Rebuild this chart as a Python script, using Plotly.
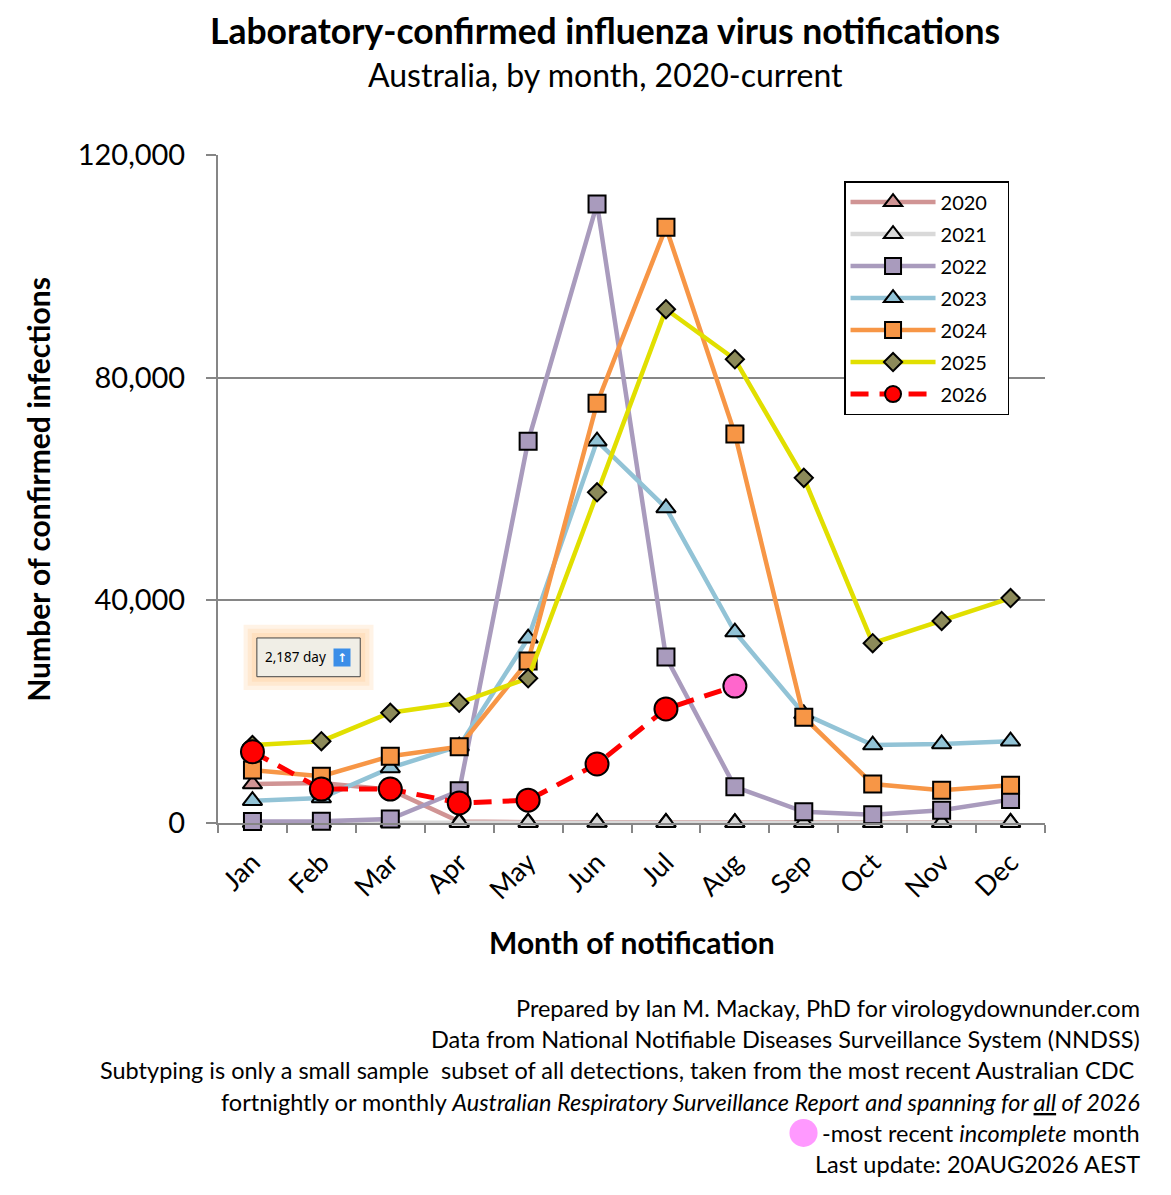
import plotly.graph_objects as go

months = ['Jan', 'Feb', 'Mar', 'Apr', 'May', 'Jun', 'Jul', 'Aug', 'Sep', 'Oct', 'Nov', 'Dec']

y2020 = [7000, 7200, 6000, 250, 150, 120, 120, 80, 60, 60, 70, 100]
y2021 = [50, 50, 100, 60, 60, 70, 60, 40, 30, 30, 40, 60]
y2022 = [250, 300, 700, 5800, 68600, 111200, 29800, 6500, 2000, 1500, 2300, 4200]
y2023 = [4000, 4500, 9900, 13800, 33200, 68600, 56600, 34300, 19600, 14000, 14200, 14700]
y2024 = [9500, 8400, 12000, 13700, 29100, 75400, 107000, 69900, 19000, 7000, 5900, 6800]
y2025 = [14000, 14700, 19800, 21600, 26000, 59400, 92300, 83300, 62000, 32300, 36300, 40400]
y2026 = [12800, 6100, 6100, 3600, 4100, 10600, 20500, 24600]

font_main = 'Lato, Open Sans, sans-serif'

fig = go.Figure()

def add_year(name, y, line_col, fill_col, symbol, size, dash='solid'):
    fig.add_trace(go.Scatter(
        x=months[:len(y)], y=y, name=name + '\u00a0\u00a0\u00a0', legendgroup=name,
        mode='lines+markers',
        line=dict(color=line_col, width=4.5, dash=dash),
        marker=dict(symbol=symbol, size=size, color=fill_col,
                    line=dict(color='black', width=2)),
        cliponaxis=False
    ))

add_year('2020', y2020, '#D09494', '#D09494', 'triangle-up', 17)
add_year('2021', y2021, '#D9D9D9', '#D9D9D9', 'triangle-up', 17)
add_year('2022', y2022, '#A99BBD', '#A99BBD', 'square', 17)
add_year('2023', y2023, '#92C3D6', '#92C3D6', 'triangle-up', 17)
add_year('2024', y2024, '#F79646', '#F79646', 'square', 17)
add_year('2025', y2025, '#E1DF00', '#8C8A5A', 'diamond', 14)

# 2026: last month is incomplete, pink marker
cols_2026 = ['#FF0000'] * (len(y2026) - 1) + ['#FF66CC']
fig.add_trace(go.Scatter(
    x=months[:len(y2026)], y=y2026, name='2026\u00a0\u00a0\u00a0', legendgroup='2026',
    mode='lines+markers',
    line=dict(color='#FF0000', width=5, dash='18px,11px'),
    marker=dict(symbol='circle', size=23, color=cols_2026,
                line=dict(color='black', width=2)),
    cliponaxis=False
))

fig.update_xaxes(
    type='category', range=[-0.5, 11.5], tickson='boundaries',
    ticks='outside', ticklen=8, tickcolor='#868686', tickwidth=1.5,
    showline=True, linecolor='#868686', linewidth=2,
    tickangle=-45, ticklabelstandoff=11,
    tickfont=dict(family=font_main, size=27, color='black'),
    showgrid=False
)
fig.update_yaxes(
    range=[0, 120000], tickvals=[0, 40000, 80000, 120000],
    ticktext=['0', '40,000', '80,000', '120,000'],
    ticks='outside', ticklen=10, tickcolor='#868686', tickwidth=1.5,
    showline=True, linecolor='#868686', linewidth=2,
    gridcolor='#868686', gridwidth=1.5, zeroline=False,
    ticklabelstandoff=15,
    tickfont=dict(family=font_main, size=29, color='black')
)

fig.update_layout(
    width=1155, height=1180,
    margin=dict(l=210, r=118, t=147, b=365),
    plot_bgcolor='white', paper_bgcolor='white',
    showlegend=True,
    legend=dict(
        x=0.757, y=0.961, xanchor='left', yanchor='top',
        bgcolor='white', bordercolor='black', borderwidth=1.5,
        font=dict(family=font_main, size=20, color='black'),
        itemwidth=85, tracegroupgap=3
    ),
    font=dict(family=font_main, color='black')
)

annots = [
    dict(x=0.468, y=1.186, text='<b>Laboratory-confirmed influenza virus notifications</b>',
         font=dict(size=35.5)),
    dict(x=0.468, y=1.12, text='Australia, by month, 2020-current', font=dict(size=32)),
    dict(x=-0.218, y=0.5, text='<b>Number of confirmed infections</b>',
         font=dict(size=30), textangle=-90),
    dict(x=0.5, y=-0.178, text='<b>Month of notification</b>', font=dict(size=30)),
]
footer = [
    'Prepared by Ian M. Mackay, PhD for virologydownunder.com',
    'Data from National Notifiable Diseases Surveillance System (NNDSS)',
    'Subtyping is only a small sample  subset of all detections, taken from the most recent Australian CDC ',
    'fortnightly or monthly <i>Australian Respiratory Surveillance Report and spanning for '
    '<span style="text-decoration:underline">all</span> of 2026</i>',
    '-most recent <i>incomplete</i> month',
    'Last update: 20AUG2026 AEST',
]
for i, line in enumerate(footer):
    annots.append(dict(x=1.117, y=-0.277 - i * 0.0467, text=line, xanchor='right',
                       font=dict(size=23.5)))
for a in annots:
    a.update(xref='paper', yref='paper', showarrow=False, yanchor='middle')
    a.setdefault('xanchor', 'center')
    fig.add_annotation(**a)

# pink dot used as the key for the incomplete month
fig.add_shape(type='circle', xref='paper', yref='paper', x0=0.691, x1=0.725,
              y0=-0.485, y1=-0.443, fillcolor='#FF99FF', line=dict(width=0))

# little overlay badge seen on the original screenshot (soft orange glow)
for pad in [0.016, 0.011, 0.006]:
    fig.add_shape(type='rect', xref='paper', yref='paper',
                  x0=0.047 - pad, x1=0.172 + pad, y0=0.219 - pad * 1.24, y1=0.277 + pad * 1.24,
                  line=dict(width=0), fillcolor='rgba(255,180,100,0.16)')
fig.add_shape(type='rect', xref='paper', yref='paper', x0=0.047, x1=0.172, y0=0.219, y1=0.277,
              line=dict(color='#444', width=1), fillcolor='#F0EEE6')
fig.add_annotation(xref='paper', yref='paper', x=0.0935, y=0.248, showarrow=False,
                   xanchor='center', yanchor='middle', text='2,187 day',
                   font=dict(size=13.5, family='Noto Sans'))
fig.add_annotation(xref='paper', yref='paper', x=0.1505, y=0.248, showarrow=False,
                   xanchor='center', yanchor='middle', text='<b>↑</b>',
                   font=dict(size=12, family='DejaVu Sans', color='white'),
                   bgcolor='#3B8EE8', width=14, height=15, borderpad=1)

fig.write_html('out.html')
